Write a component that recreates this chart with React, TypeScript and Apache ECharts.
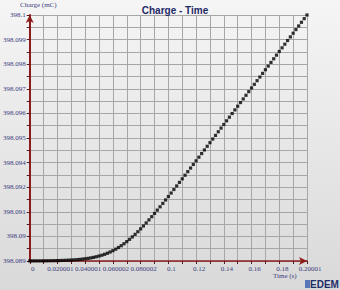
import React, { useEffect, useRef } from "react";
import * as echarts from "echarts";

const titleText = "Charge - Time";
const yAxisName = "Charge (mC)";
const xAxisName = "Time (s)";

const xTickLabels = ["0", "0.020001", "0.040001", "0.060002", "0.080002", "0.1", "0.12", "0.14", "0.16", "0.18", "0.20001"];
const yTickLabels = ["398.089", "398.09", "398.091", "398.092", "398.094", "398.095", "398.096", "398.097", "398.098", "398.099", "398.1"];

const times = [
  0.000, 0.002, 0.004, 0.006, 0.008, 0.010, 0.012, 0.014, 0.016, 0.018,
  0.020, 0.022, 0.024, 0.026, 0.028, 0.030, 0.032, 0.034, 0.036, 0.038,
  0.040, 0.042, 0.044, 0.046, 0.048, 0.050, 0.052, 0.054, 0.056, 0.058,
  0.060, 0.062, 0.064, 0.066, 0.068, 0.070, 0.072, 0.074, 0.076, 0.078,
  0.080, 0.082, 0.084, 0.086, 0.088, 0.090, 0.092, 0.094, 0.096, 0.098,
  0.100, 0.102, 0.104, 0.106, 0.108, 0.110, 0.112, 0.114, 0.116, 0.118,
  0.120, 0.122, 0.124, 0.126, 0.128, 0.130, 0.132, 0.134, 0.136, 0.138,
  0.140, 0.142, 0.144, 0.146, 0.148, 0.150, 0.152, 0.154, 0.156, 0.158,
  0.160, 0.162, 0.164, 0.166, 0.168, 0.170, 0.172, 0.174, 0.176, 0.178,
  0.180, 0.182, 0.184, 0.186, 0.188, 0.190, 0.192, 0.194, 0.196, 0.198,
  0.200,
];

const charge = [
  398.089003, 398.089004, 398.089005, 398.089005, 398.089006, 398.089008, 398.089009, 398.089011, 398.089013, 398.089015,
  398.089018, 398.089022, 398.089026, 398.089031, 398.089036, 398.089043, 398.089051, 398.089060, 398.089071, 398.089084,
  398.089099, 398.089117, 398.089138, 398.089162, 398.089190, 398.089222, 398.089258, 398.089300, 398.089348, 398.089402,
  398.089462, 398.089529, 398.089603, 398.089684, 398.089772, 398.089867, 398.089968, 398.090077, 398.090191, 398.090311,
  398.090437, 398.090567, 398.090701, 398.090840, 398.090982, 398.091127, 398.091274, 398.091424, 398.091576, 398.091729,
  398.091884, 398.092040, 398.092198, 398.092356, 398.092515, 398.092675, 398.092835, 398.092995, 398.093157, 398.093318,
  398.093480, 398.093642, 398.093804, 398.093966, 398.094129, 398.094291, 398.094454, 398.094617, 398.094779, 398.094942,
  398.095105, 398.095268, 398.095431, 398.095594, 398.095757, 398.095921, 398.096084, 398.096247, 398.096410, 398.096573,
  398.096737, 398.096900, 398.097063, 398.097226, 398.097389, 398.097553, 398.097716, 398.097879, 398.098042, 398.098205,
  398.098369, 398.098532, 398.098695, 398.098858, 398.099021, 398.099185, 398.099348, 398.099511, 398.099674, 398.099837,
  398.100001,
];

const AXIS_RED = "#8b1c1c";
const GRID_GRAY = "#a6a6a6";
const LABEL_BLUE = "#3d3d7e";
const SERIF = "'Liberation Serif', 'DejaVu Serif', serif";

export default function App() {
  const ref = useRef<HTMLDivElement>(null);

  useEffect(() => {
    if (!ref.current) return;
    const chart = echarts.init(ref.current, undefined, { renderer: "svg" });
    const data = times.map((t, i) => [t, charge[i]]);

    chart.setOption({
      animation: false,
      backgroundColor: new echarts.graphic.LinearGradient(0, 0, 0, 1, [
        { offset: 0, color: "#f5f5f5" },
        { offset: 1, color: "#d9d9d9" },
      ]),
      title: {
        text: titleText,
        left: 170,
        textAlign: "center",
        top: 0,
        textStyle: {
          fontFamily: "'Liberation Sans', Arial, sans-serif",
          fontSize: 10,
          fontWeight: "bold",
          color: "#1e2a66",
        },
      },
      grid: { left: 25, right: 33, top: 15, bottom: 29, containLabel: false },
      xAxis: {
        type: "value",
        min: 0,
        max: 0.2,
        interval: 0.02,
        axisLine: {
          show: true,
          onZero: false,
          symbol: ["none", "arrow"],
          symbolSize: [6, 8],
          lineStyle: { color: AXIS_RED, width: 1.5 },
        },
        axisTick: { show: true, length: 3, lineStyle: { color: "#5a1a1a", width: 1 } },
        minorTick: { show: true, splitNumber: 2, length: 3, lineStyle: { color: "#5a1a1a", width: 1 } },
        splitLine: { show: true, lineStyle: { color: GRID_GRAY, width: 1 } },
        minorSplitLine: { show: true, lineStyle: { color: GRID_GRAY, width: 1 } },
        axisLabel: {
          show: true,
          margin: 4,
          fontSize: 7,
          fontFamily: SERIF,
          color: LABEL_BLUE,
          padding: [0, 0, 0, 6],
          formatter: (v: number) => xTickLabels[Math.round(v / 0.02)] ?? "",
        },
      },
      yAxis: [
        {
          type: "value",
          min: 398.089,
          max: 398.1,
          show: false,
          splitLine: { show: false },
        },
        {
          type: "value",
          min: 0,
          max: 10,
          interval: 1,
          position: "left",
          axisLine: {
            show: true,
            onZero: false,
            symbol: ["none", "arrow"],
            symbolSize: [6, 8],
            lineStyle: { color: AXIS_RED, width: 2 },
          },
          axisTick: { show: true, length: 3, lineStyle: { color: "#5a1a1a", width: 1 } },
          minorTick: { show: true, splitNumber: 2, length: 3, lineStyle: { color: "#5a1a1a", width: 1 } },
          splitLine: { show: true, lineStyle: { color: GRID_GRAY, width: 1 } },
          minorSplitLine: { show: true, lineStyle: { color: GRID_GRAY, width: 1 } },
          axisLabel: {
            show: true,
            margin: 4,
            fontSize: 7,
            fontFamily: SERIF,
            color: LABEL_BLUE,
            formatter: (v: number) => yTickLabels[Math.round(v)] ?? "",
          },
        },
      ],
      graphic: [
        {
          type: "text",
          left: 20,
          top: 1,
          style: { text: yAxisName, fontSize: 7, fontFamily: SERIF, fill: LABEL_BLUE },
        },
        {
          type: "text",
          left: 273,
          top: 272,
          style: { text: xAxisName, fontSize: 7, fontFamily: SERIF, fill: LABEL_BLUE },
        },
        {
          type: "rect",
          shape: { x: 305, y: 280, width: 5, height: 8 },
          style: { fill: "#5a78b8" },
        },
        {
          type: "text",
          left: 310,
          top: 279,
          style: {
            text: "EDEM",
            fontSize: 10,
            fontWeight: "bold",
            fontFamily: "'Liberation Sans', Arial, sans-serif",
            fill: "#1f2c6a",
          },
        },
      ],
      series: [
        {
          type: "scatter",
          yAxisIndex: 0,
          symbol: "rect",
          symbolSize: 3.2,
          itemStyle: { color: "#000000" },
          data,
          z: 5,
        },
      ],
    });

    return () => chart.dispose();
  }, []);

  return <div ref={ref} style={{ position: "fixed", left: 0, top: 0, width: 340, height: 290 }} />;
}
